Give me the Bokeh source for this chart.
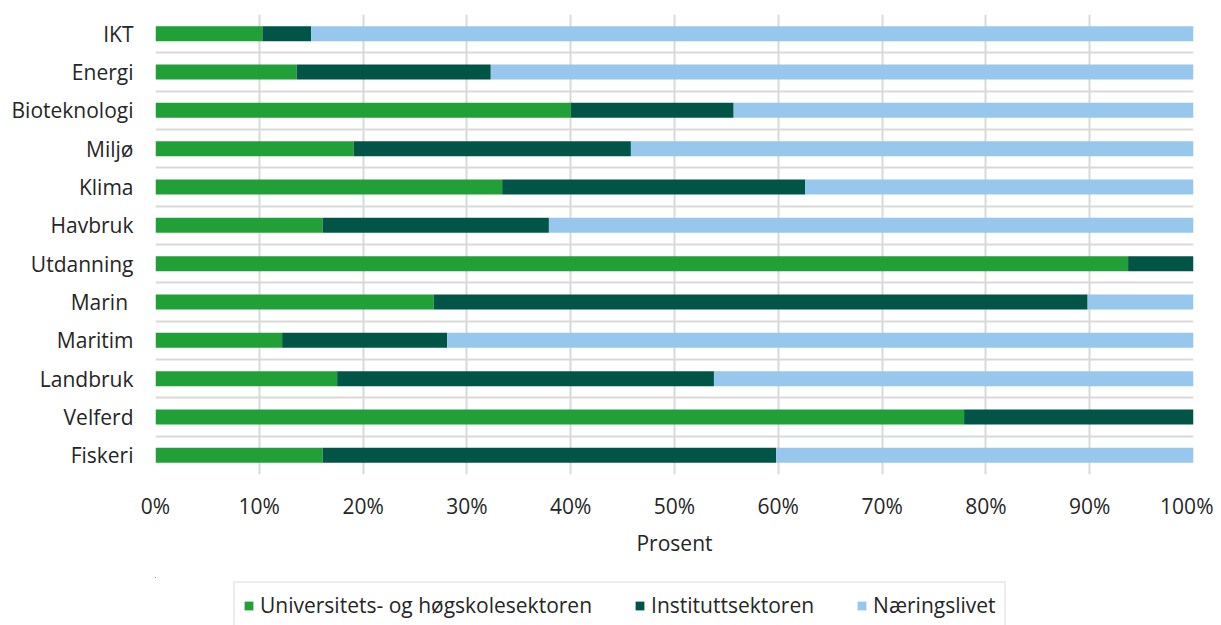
from bokeh.plotting import figure
from bokeh.layouts import column
from bokeh.models import (ColumnDataSource, FixedTicker, PrintfTickFormatter, Range1d,
                          Legend, LegendItem)
from bokeh.embed import file_html
from bokeh.resources import INLINE

categories = ["IKT", "Energi", "Bioteknologi", "Miljø", "Klima", "Havbruk",
              "Utdanning", "Marin ", "Maritim", "Landbruk", "Velferd", "Fiskeri"]
# cumulative end of each segment (percent)
uh_end = [10.3, 13.6, 40.0, 19.1, 33.4, 16.1, 93.7, 26.8, 12.2, 17.5, 77.9, 16.1]
inst_end = [15.0, 32.3, 55.7, 45.8, 62.6, 37.9, 100.0, 89.8, 28.1, 53.8, 100.0, 59.8]

uh = uh_end
inst = [round(b - a, 1) for a, b in zip(uh_end, inst_end)]
naer = [round(100 - b, 1) for b in inst_end]

series = ["uh", "inst", "naer"]
labels = ["Universitets- og høgskolesektoren", "Instituttsektoren", "Næringslivet"]
colors = ["#21A038", "#005546", "#97C7EC"]

n = len(categories)
ypos = [n - i - 0.5 for i in range(n)]
src = ColumnDataSource(dict(y=ypos, cat=categories, uh=uh, inst=inst, naer=naer))

FONT = "Open Sans"
TXT = "#262626"
GRID = "#D9D9D9"
FS = "21px"

p = figure(width=1213, height=577, output_backend="svg", toolbar_location=None,
           x_range=Range1d(0, 100), y_range=Range1d(0, n),
           min_border_left=155, min_border_right=20, min_border_top=14,
           min_border_bottom=103)
p.outline_line_color = None

rs = p.hbar_stack(series, y="y", height=0.39, color=colors, source=src,
                  line_color=None)

p.xaxis.ticker = FixedTicker(ticks=list(range(0, 101, 10)))
p.xaxis.formatter = PrintfTickFormatter(format="%d%%")
p.xaxis.axis_label = "Prosent"
p.yaxis.ticker = FixedTicker(ticks=ypos)
p.yaxis.major_label_overrides = {y: c for y, c in zip(ypos, categories)}

for ax in (p.xaxis, p.yaxis):
    ax.axis_line_color = None
    ax.major_tick_line_color = None
    ax.minor_tick_line_color = None
    ax.major_label_text_font = FONT
    ax.major_label_text_font_size = FS
    ax.major_label_text_color = TXT
    ax.axis_label_text_font = FONT
    ax.axis_label_text_font_size = FS
    ax.axis_label_text_font_style = "normal"
    ax.axis_label_text_color = TXT
p.xaxis.major_label_standoff = 11
p.xaxis.axis_label_standoff = 6
p.yaxis.major_label_standoff = 16

p.xgrid.ticker = FixedTicker(ticks=list(range(0, 101, 10)))
p.ygrid.ticker = FixedTicker(ticks=list(range(0, n + 1)))
for g in (p.xgrid, p.ygrid):
    g.grid_line_color = GRID
    g.grid_line_width = 2
    g.level = "underlay"

# legend strip below the chart (its bars lie fully outside the visible ranges)
p2 = figure(width=1213, height=48, output_backend="svg", toolbar_location=None,
            x_range=Range1d(500, 600), y_range=Range1d(-60, -59),
            min_border_left=0, min_border_right=0, min_border_top=0, min_border_bottom=0)
p2.axis.visible = False
p2.grid.visible = False
p2.outline_line_color = None
lrs = p2.hbar_stack(series, y="y", height=0.39, color=colors, source=src, line_color=None)

lg = Legend(items=[LegendItem(label=l, renderers=[r]) for l, r in zip(labels, lrs)])
lg.orientation = "horizontal"
lg.location = (78, -4)
lg.label_text_font = FONT
lg.label_text_font_size = FS
lg.label_text_color = TXT
lg.glyph_width = 11
lg.glyph_height = 11
lg.label_standoff = 6
lg.spacing = 42
lg.padding = 8
lg.margin = 0
lg.border_line_color = GRID
lg.border_line_width = 2
lg.background_fill_alpha = 1
p2.add_layout(lg)

open("out.html", "w").write(file_html(column(p, p2), INLINE))
